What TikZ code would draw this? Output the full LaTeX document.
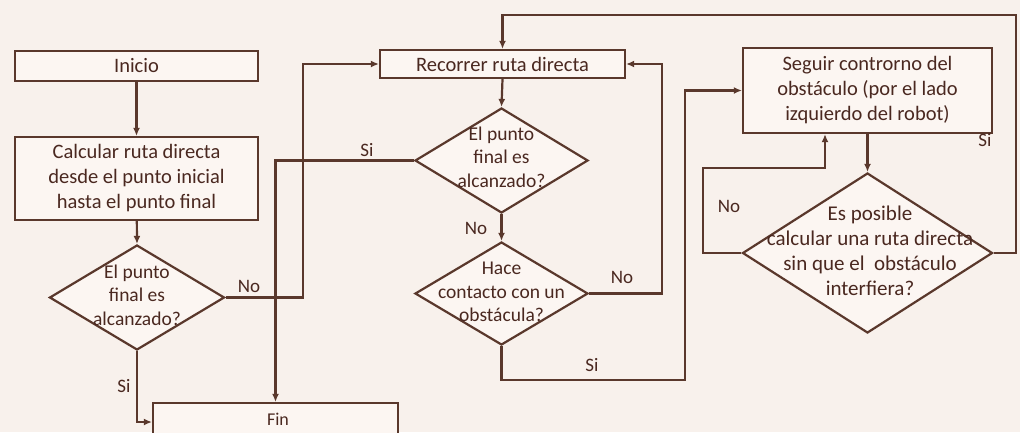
\documentclass[tikz,border=0pt]{standalone}
\usepackage{fontspec}
\setmainfont{Carlito}
\usetikzlibrary{shapes.geometric,arrows.meta,calc}
\definecolor{ink}{HTML}{5A382C}
\definecolor{txt}{HTML}{4A2820}
\definecolor{bg}{HTML}{F8F1EC}
\definecolor{boxfill}{HTML}{FCF6F2}
\tikzset{
  box/.style={draw=ink, line width=2.2pt, fill=boxfill, inner sep=0pt, align=center, text=txt, font=\fontsize{20.5}{25}\selectfont},
  dia/.style={draw=ink, line width=2.2pt, diamond, inner sep=0pt, fill=boxfill},
  dtext/.style={text=txt, align=center, font=\fontsize{19.5}{23.5}\selectfont},
  lbl/.style={text=txt, font=\fontsize{19}{20}\selectfont},
  arr/.style={draw=ink, line width=2.2pt, -{Latex[length=8pt,width=7pt]}}
}
\begin{document}
\begin{tikzpicture}[x=1pt,y=-1pt]
\useasboundingbox (0,0) rectangle (1020,432);
\fill[bg] (0,0) rectangle (1020,432);
% boxes
\node[box, minimum width=243, minimum height=30] (ini) at (136.5,66) {Inicio};
\node[box, minimum width=243, minimum height=83] (calc) at (136.5,178.5) {Calcular ruta directa\\desde el punto inicial\\hasta el punto final};
\node[box, minimum width=245, minimum height=28] (rec) at (502.5,64) {Recorrer ruta directa};
\node[box, minimum width=249, minimum height=85] (seg) at (867.5,90.5) {Seguir controrno del\\obstáculo (por el lado\\izquierdo del robot)};
\node[box, minimum width=245, minimum height=38] (fin) at (275.5,422) {};
\node[text=txt, inner sep=1pt, font=\fontsize{18}{19}\selectfont] (fint) at (278,419) {Fin};
% diamonds
\node[dia, minimum width=175, minimum height=105] (d1) at (137,297.5) {};
\node[dtext] (d1t) at (137,295) {El punto\\final es\\alcanzado?};
\node[dia, minimum width=173, minimum height=105] (d2) at (501.5,160.5) {};
\node[dtext] (d2t) at (501.5,157) {El punto\\final es\\alcanzado?};
\node[dia, minimum width=173, minimum height=103] (d4) at (501.5,293.5) {};
\node[dtext] (d4t) at (501.5,292) {Hace\\contacto con un\\obstácula?};
\node[dia, minimum width=250, minimum height=160] (d3) at (867.5,253) {};
\node[dtext, font=\fontsize{21}{25}\selectfont] (d3t) at (870,251) {Es posible\\calcular una ruta directa\\sin que el\ \ obstáculo\\interfiera?};
% helper coordinates
\coordinate (c1) at (303,0);
\coordinate (c2) at (662,0);
\coordinate (c3) at (685,380);
\coordinate (c4) at (703,168);
\coordinate (c5) at (1016,15);
% connectors
\draw[arr] (ini) -- (calc);
\draw[arr] (calc) -- (d1.north);
\draw[arr] (d1.east) -- (d1.east -| c1) |- (rec.west);
\draw[arr] (d1.south) |- (fin.west);
\draw[arr] (d2.west) -| (fin.north);
\draw[arr] (rec.south) -- (d2.north);
\draw[arr] (d2.south) -- (d4.north);
\draw[arr] (d4.east) -- (d4.east -| c2) |- (rec.east);
\draw[arr] (d4.south) |- (c3) |- (seg.west);
\draw[arr] (seg.south) -- (d3.north);
\draw[arr] (d3.west) -| (c4) -| ($(seg.south)+(-42.5,0)$);
\draw[arr] (d3.east) -| (c5) -| (rec.north);
% labels
\node[lbl] (l1) at (367,150) {Si};
\node[lbl] (l2) at (249,286) {No};
\node[lbl] (l3) at (124,386) {Si};
\node[lbl] (l4) at (476,228) {No};
\node[lbl] (l5) at (622,277) {No};
\node[lbl] (l6) at (592,365) {Si};
\node[lbl] (l7) at (729,206) {No};
\node[lbl] (l8) at (985,140) {Si};
\end{tikzpicture}
\end{document}
